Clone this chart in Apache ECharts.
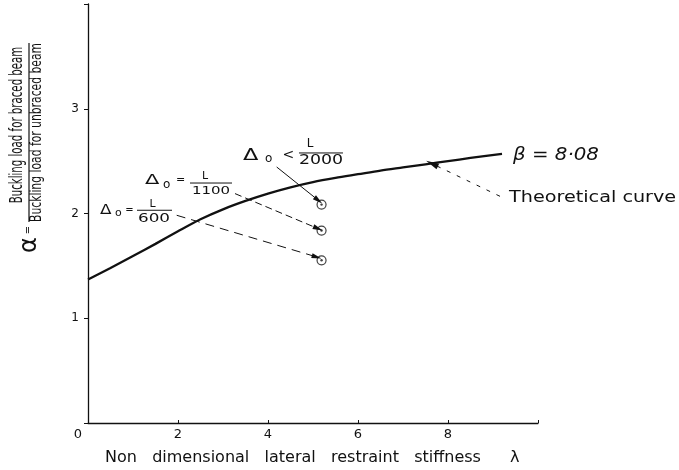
<!DOCTYPE html>
<html>
<head>
<meta charset="utf-8">
<script src="https://cdn.jsdelivr.net/npm/echarts@6/dist/echarts.min.js"></script>
<style>
  html, body { margin: 0; padding: 0; background: #fff; }
  #chart { width: 679px; height: 470px; }
</style>
</head>
<body>
<div id="chart"></div>
<script>
// Theoretical curve: alpha against lambda (beta = 8.08)
const curveLambda = [0, 0.5, 1, 1.5, 2, 2.5, 3, 3.5, 4, 4.5, 5, 5.5, 6, 6.5, 7, 7.5, 8, 8.5, 9.2];
const curveAlpha  = [1.37, 1.48, 1.595, 1.71, 1.83, 1.945, 2.04, 2.12, 2.19, 2.25, 2.30, 2.34, 2.375, 2.41, 2.44, 2.47, 2.50, 2.53, 2.57];

// Test results for three initial imperfections
const testLambda = [5.19, 5.19, 5.19];
const testAlpha  = [2.085, 1.837, 1.553];
const testDenominators = ['2000', '1100', '600'];
const testRelations    = ['<', '=', '='];

// Axis ticks
const xTickValues = [0, 2, 4, 6, 8];
const yTickValues = [1, 2, 3];

// Leader arrows (data space): [from, to]
const leaderArrows = [
  [[4.193, 2.444], [5.118, 2.126]],
  [[3.267, 2.190], [5.111, 1.856]],
  [[1.971, 1.983], [5.082, 1.585]]
];
const curveArrow = [[9.156, 2.164], [7.644, 2.476]];

// Anchors of the imperfection labels (data space, left end at fraction-bar height)
const labelAnchors = [[3.444, 2.578], [1.267, 2.291], [0.267, 2.031]];

const FONT = 'DejaVu Sans';
const INK = '#111';

const chart = echarts.init(document.getElementById('chart'), null, { renderer: 'canvas' });

const curveData = curveLambda.map((x, i) => [x, curveAlpha[i]]);
const testData = testLambda.map((x, i) => [x, testAlpha[i]]);

function arrowItem(pair, style, headSize) {
  return [
    { coord: pair[0], symbol: 'none' },
    { coord: pair[1], symbol: 'triangle', symbolSize: headSize, lineStyle: style }
  ];
}

chart.setOption({
  animation: false,
  grid: { left: 88, right: 141, top: 4, bottom: 47 },
  xAxis: {
    type: 'value', min: 0, max: 10, interval: 2,
    axisLine: { lineStyle: { color: INK, width: 1.3 } },
    axisTick: { inside: true, length: 3, lineStyle: { color: INK } },
    splitLine: { show: false },
    axisLabel: {
      margin: 5, color: INK, fontFamily: FONT, fontSize: 13,
      formatter: v => {
        if (v === 0) return '{o|' + xTickValues[0] + '}';
        return xTickValues.indexOf(v) >= 0 ? String(v) : '';
      },
      rich: { o: { padding: [0, 20, 0, 0], fontFamily: FONT, fontSize: 13, color: INK } }
    }
  },
  yAxis: {
    type: 'value', min: 0, max: 4, interval: 1,
    axisLine: { show: true, lineStyle: { color: INK, width: 1.3 } },
    axisTick: { show: true, inside: false, length: 4, lineStyle: { color: INK } },
    splitLine: { show: false },
    axisLabel: {
      margin: 9, color: INK, fontFamily: FONT, fontSize: 12,
      formatter: v => (yTickValues.indexOf(v) >= 0 ? String(v) : '')
    }
  },
  series: [
    {
      name: 'Theoretical curve',
      type: 'line',
      data: curveData,
      smooth: 0.3,
      showSymbol: false,
      lineStyle: { color: INK, width: 2.3 },
      silent: true,
      markLine: {
        silent: true,
        label: { show: false },
        emphasis: { disabled: true },
        lineStyle: { color: INK, width: 1, type: [4, 7] },
        data: [arrowItem(curveArrow, { color: INK, width: 1, type: [4, 7] }, [6, 13])]
      }
    },
    {
      name: 'Tests',
      type: 'scatter',
      data: testData,
      symbol: 'circle',
      symbolSize: 9,
      itemStyle: { color: '#fff', borderColor: INK, borderWidth: 1.2 },
      silent: true,
      z: 3,
      markLine: {
        silent: true,
        label: { show: false },
        emphasis: { disabled: true },
        lineStyle: { color: INK, width: 1, type: 'solid' },
        data: [
          arrowItem(leaderArrows[0], { color: INK, width: 1, type: 'solid' }, [5, 10]),
          arrowItem(leaderArrows[1], { color: INK, width: 1, type: [7, 4] }, [5, 10]),
          arrowItem(leaderArrows[2], { color: INK, width: 1, type: [9, 6] }, [5, 10])
        ]
      }
    },
    {
      name: 'Test centres',
      type: 'scatter',
      data: testData,
      symbol: 'circle',
      symbolSize: 2.4,
      itemStyle: { color: INK },
      silent: true,
      z: 4
    }
  ]
});

function t(x, y, text, size, extra, sx) {
  return {
    type: 'text', x: x, y: y, silent: true, scaleX: sx || 1,
    style: Object.assign({
      text: text, fontFamily: FONT, fontSize: size, fill: INK,
      align: 'left', verticalAlign: 'middle'
    }, extra || {})
  };
}

// Layout of each "Δo </= L/n" label, relative to its anchor
const labelLayouts = [
  { dy: 2.8, dSize: 15, dS: 1.5, ox: 22, oy: 5.5, oSize: 12, rx: 45.5, ry: 2.3, rSize: 14, l1: 56, l2: 100, nx: 67, ny: -8.7, nSize: 12, mx: 78, my: 7.3, mSize: 14, mS: 1.24 },
  { dy: -2.7, dSize: 14, dS: 1.5, ox: 18, oy: 1.8, oSize: 12, rx: 35.5, ry: -2.7, rSize: 11, l1: 45, l2: 87, nx: 60, ny: -6.7, nSize: 11, mx: 66, my: 8.3, mSize: 11, mS: 1.36 },
  { dy: 0, dSize: 14, dS: 1.2, ox: 15, oy: 2.5, oSize: 11, rx: 29.5, ry: 0, rSize: 10, l1: 37, l2: 72, nx: 52.5, ny: -6, nSize: 11, mx: 54, my: 8.5, mSize: 12, mS: 1.4 }
];

function imperfectionLabel(i) {
  const p = chart.convertToPixel({ gridIndex: 0 }, labelAnchors[i]);
  const L = labelLayouts[i];
  return {
    type: 'group', x: p[0], y: p[1], silent: true,
    children: [
      t(0, L.dy, 'Δ', L.dSize, null, L.dS),
      t(L.ox, L.oy, 'o', L.oSize),
      t(L.rx, L.ry, testRelations[i], L.rSize, { align: 'center' }),
      { type: 'line', shape: { x1: L.l1, y1: 0, x2: L.l2, y2: 0 }, style: { stroke: INK, lineWidth: 1 } },
      t(L.nx, L.ny, 'L', L.nSize, { align: 'center' }),
      t(L.mx, L.my, testDenominators[i], L.mSize, { align: 'center' }, L.mS)
    ]
  };
}

const curveEnd = chart.convertToPixel({ gridIndex: 0 }, curveData[curveData.length - 1]);
const curveNote = chart.convertToPixel({ gridIndex: 0 }, curveArrow[0]);

chart.setOption({
  graphic: [
    imperfectionLabel(0),
    imperfectionLabel(1),
    imperfectionLabel(2),
    // beta value at the end of the curve
    t(curveEnd[0] + 11, curveEnd[1] + 2, 'β = 8·08', 18, { fontStyle: 'italic' }, 1.1),
    // curve caption
    t(curveNote[0] + 9, curveNote[1] + 2, 'Theoretical curve', 16, null, 1.2),
    // x axis title
    t(105, 458, 'Non   dimensional   lateral   restraint   stiffness', 16),
    t(510, 458, 'λ', 16),
    // y axis title: alpha = ratio of buckling loads
    {
      type: 'group', x: 29, y: 132.5, rotation: Math.PI / 2, silent: true,
      children: [
        t(7.5, -11.5, 'Buckling load for braced beam', 17, { align: 'center' }, 0.6),
        { type: 'line', shape: { x1: -89.5, y1: 0, x2: 89.5, y2: 0 }, style: { stroke: INK, lineWidth: 1.2 } },
        t(0, 8, 'Buckling load for unbraced beam', 16, { align: 'center' }, 0.673),
        t(-97.5, -1, '=', 10, { align: 'center' }),
        t(-112.5, 1, 'α', 24, { align: 'center' })
      ]
    }
  ]
});
</script>
</body>
</html>
